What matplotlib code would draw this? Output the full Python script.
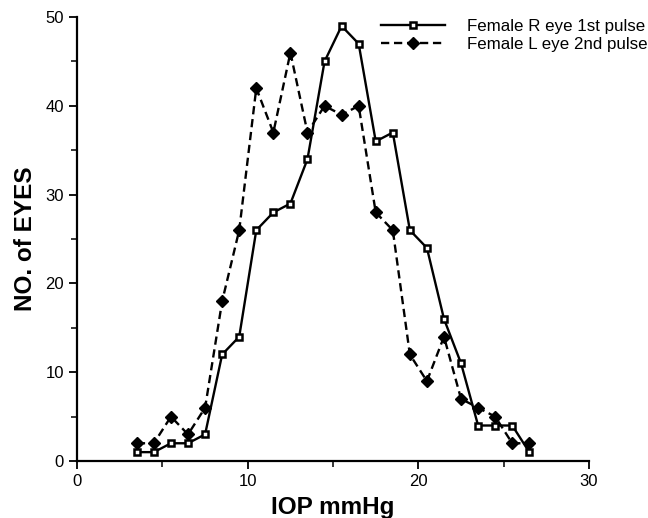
import matplotlib.pyplot as plt
from matplotlib.ticker import MultipleLocator

# IOP bins (mmHg, bin centres)
iop = [3.5, 4.5, 5.5, 6.5, 7.5, 8.5, 9.5, 10.5, 11.5, 12.5, 13.5, 14.5,
       15.5, 16.5, 17.5, 18.5, 19.5, 20.5, 21.5, 22.5, 23.5, 24.5, 25.5, 26.5]

# number of eyes
r_eye_1st = [1, 1, 2, 2, 3, 12, 14, 26, 28, 29, 34, 45,
             49, 47, 36, 37, 26, 24, 16, 11, 4, 4, 4, 1]
l_eye_2nd = [2, 2, 5, 3, 6, 18, 26, 42, 37, 46, 37, 40,
             39, 40, 28, 26, 12, 9, 14, 7, 6, 5, 2, 2]

plt.rcParams['font.family'] = ['Liberation Sans', 'DejaVu Sans']

fig = plt.figure(figsize=(6.48, 5.18), dpi=100)
ax = fig.add_axes([0.119, 0.110, 0.790, 0.857])

ax.plot(iop, r_eye_1st, color='black', lw=1.7, ls='-', marker='s',
        ms=5, mfc='white', mec='black', mew=1.8,
        label='Female R eye 1st pulse', zorder=3)
ax.plot(iop, l_eye_2nd, color='black', lw=1.7, ls=(0, (3.5, 2)), marker='D',
        ms=6.5, mfc='black', mec='black',
        label='Female L eye 2nd pulse', zorder=2)

ax.set_xlim(0, 30)
ax.set_ylim(0, 50)
ax.xaxis.set_major_locator(MultipleLocator(10))
ax.xaxis.set_minor_locator(MultipleLocator(5))
ax.yaxis.set_major_locator(MultipleLocator(10))
ax.yaxis.set_minor_locator(MultipleLocator(5))
ax.tick_params(which='major', direction='out', length=6, width=1.3, labelsize=12)
ax.tick_params(which='minor', direction='out', length=4, width=1.1)

for side in ['top', 'right']:
    ax.spines[side].set_visible(False)
for side in ['left', 'bottom']:
    ax.spines[side].set_linewidth(1.6)

ax.set_xlabel('IOP mmHg', fontsize=17.5, fontweight='bold', labelpad=5)
ax.set_ylabel('NO. of EYES', fontsize=17.5, fontweight='bold', labelpad=6)

ax.legend(loc='upper right', bbox_to_anchor=(1.145, 1.03), frameon=False,
          fontsize=12.2, handlelength=3.8, handletextpad=1.3, labelspacing=0.15)

fig.savefig('out.png', dpi=100)
